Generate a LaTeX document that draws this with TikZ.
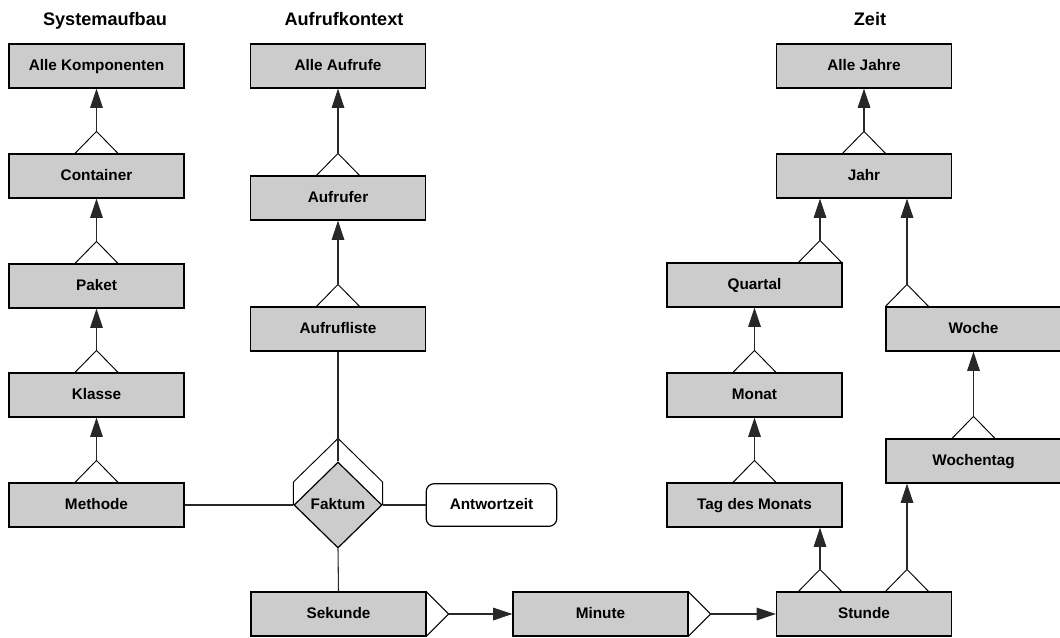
\documentclass[tikz,border=0pt]{standalone}
\usepackage{fontspec}
\setmainfont{Liberation Sans}
\usetikzlibrary{shapes.geometric,arrows.meta,calc}
\definecolor{boxgray}{RGB}{204,204,204}
\definecolor{linegray}{RGB}{40,40,40}

\tikzset{
  level/.style={draw=black, line width=0.9pt, fill=boxgray, rectangle,
    minimum width=131.25pt, minimum height=33pt, inner sep=0pt,
    font=\fontsize{11.5pt}{13pt}\selectfont\bfseries,
    text height=0.72em, text depth=0pt},
  measure/.style={draw=black, line width=0.9pt, fill=white, rectangle,
    rounded corners=6pt, minimum width=98pt, minimum height=32pt, inner sep=0pt,
    font=\fontsize{11.5pt}{13pt}\selectfont\bfseries,
    text height=0.72em, text depth=0pt},
  fact/.style={draw=black, line width=0.9pt, fill=boxgray, diamond, aspect=1.02,
    minimum width=66pt, minimum height=64.5pt, inner sep=0pt,
    font=\fontsize{11.5pt}{13pt}\selectfont\bfseries,
    text height=0.72em, text depth=0pt},
  heading/.style={font=\fontsize{13.6pt}{15pt}\selectfont\bfseries,
    anchor=base, inner sep=0pt},
  link/.style={draw=linegray, line width=0.8pt},
  rollup/.style={draw=black, line width=0.7pt},
  upto/.style={link, -{Triangle[length=14.5pt, width=9.5pt]}},
}

\begin{document}
\begin{tikzpicture}[x=0.75pt, y=-0.75pt]
  \useasboundingbox (0,0) rectangle (1060,637);

  % dimension headings
  \node[heading] (hsys)  at (105,25) {Systemaufbau};
  \node[heading] (hcall) at (344,25) {Aufrufkontext};
  \node[heading] (htime) at (870,25) {Zeit};

  % Systemaufbau hierarchy
  \node[level] (komp)    at (96.5,66)  {Alle Komponenten};
  \node[level] (cont)    at (96.5,176) {Container};
  \node[level] (paket)   at (96.5,286) {Paket};
  \node[level] (klasse)  at (96.5,395) {Klasse};
  \node[level] (methode) at (96.5,505) {Methode};

  % Aufrufkontext hierarchy
  \node[level] (aufrufe)  at (338,66)  {Alle Aufrufe};
  \node[level] (aufrufer) at (338,198) {Aufrufer};
  \node[level] (liste)    at (338,329) {Aufrufliste};

  % fact and its measure
  \node[fact] (faktum) at (338,505) {Faktum};
  \node[measure] (antwort) at (491.5,505) {Antwortzeit};

  % Zeit hierarchy
  \node[level] (sekunde)   at (338.5,614) {Sekunde};
  \node[level] (minute)    at (600.5,614) {Minute};
  \node[level] (stunde)    at (864,614)   {Stunde};
  \node[level] (tag)       at (754.5,505) {Tag des Monats};
  \node[level] (monat)     at (754.5,395) {Monat};
  \node[level] (quartal)   at (754.5,285) {Quartal};
  \node[level] (jahr)      at (864,176)   {Jahr};
  \node[level] (allejahre) at (864,66)    {Alle Jahre};
  \node[level] (wochentag) at (973.5,461) {Wochentag};
  \node[level] (woche)     at (973.5,329) {Woche};

  % apex points of the roll-up triangles (vertical)
  \coordinate (rCont)   at ($(cont.north)+(0,-22)$);
  \coordinate (rPaket)  at ($(paket.north)+(0,-22)$);
  \coordinate (rKlasse) at ($(klasse.north)+(0,-22)$);
  \coordinate (rMeth)   at ($(methode.north)+(0,-22)$);
  \coordinate (rAufer)  at ($(aufrufer.north)+(0,-22)$);
  \coordinate (rListe)  at ($(liste.north)+(0,-22)$);
  \coordinate (rJahr)   at ($(jahr.north)+(0,-22)$);
  \coordinate (rQuart)  at ($(quartal.north)+(65.5,-22)$);
  \coordinate (rMonat)  at ($(monat.north)+(0,-22)$);
  \coordinate (rTag)    at ($(tag.north)+(0,-22)$);
  \coordinate (rWoche)  at ($(woche.north)+(-66.5,-22)$);
  \coordinate (rWtag)   at ($(wochentag.north)+(0,-22)$);
  \coordinate (rStdA)   at ($(stunde.north)+(-44,-22)$);
  \coordinate (rStdB)   at ($(stunde.north)+(43,-22)$);
  % apex points of the roll-up triangles (horizontal)
  \coordinate (rSek)    at ($(sekunde.east)+(22,0)$);
  \coordinate (rMin)    at ($(minute.east)+(22,0)$);

  % vertical roll-up triangles
  \foreach \p in {rCont,rPaket,rKlasse,rMeth,rAufer,rListe,rJahr,rQuart,
                  rMonat,rTag,rWoche,rWtag,rStdA,rStdB}
    \draw[rollup] ($(\p)+(-21.5,22)$) -- (\p) -- ($(\p)+(21.5,22)$);
  % horizontal roll-up triangles
  \foreach \p in {rSek,rMin}
    \draw[rollup] ($(\p)+(-22,-22)$) -- (\p) -- ($(\p)+(-22,22)$);

  % roll-up arrows
  \draw[upto] (rCont)   -- (komp.south);
  \draw[upto] (rPaket)  -- (cont.south);
  \draw[upto] (rKlasse) -- (paket.south);
  \draw[upto] (rMeth)   -- (klasse.south);
  \draw[upto] (rAufer)  -- (aufrufe.south);
  \draw[upto] (rListe)  -- (aufrufer.south);
  \draw[upto] (rJahr)   -- (allejahre.south);
  \draw[upto] (rQuart)  -- (rQuart |- jahr.south);
  \draw[upto] (rWoche)  -- (rWoche |- jahr.south);
  \draw[upto] (rMonat)  -- (quartal.south);
  \draw[upto] (rTag)    -- (monat.south);
  \draw[upto] (rWtag)   -- (woche.south);
  \draw[upto] (rStdA)   -- (rStdA |- tag.south);
  \draw[upto] (rStdB)   -- (rStdB |- wochentag.south);
  \draw[upto] (rSek)    -- (minute.west);
  \draw[upto] (rMin)    -- (stunde.west);

  % connections of the fact
  \draw[rollup] (faktum.west) -- ($(faktum.west)+(0,-23)$)
     -- ($(faktum.north)+(0,-23)$) -- ($(faktum.east)+(0,-23)$) -- (faktum.east);
  \draw[link] (liste.south) -- (faktum.north);
  \draw[link] (methode.east) -- (faktum.west);
  \draw[link] (faktum.east) -- (antwort.west);
  \draw[link] (faktum.south) -- (sekunde.north);
\end{tikzpicture}
\end{document}
